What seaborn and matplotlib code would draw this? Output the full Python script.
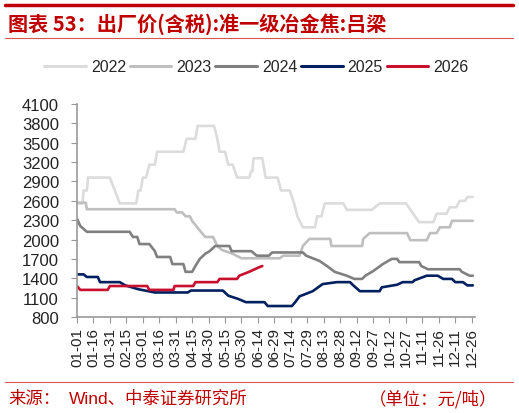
import numpy as np
import pandas as pd
import matplotlib
matplotlib.use("Agg")
import matplotlib.pyplot as plt
import seaborn as sns
from matplotlib.lines import Line2D

# breakpoints: day of year -> price (yuan/ton)
days_2022 = [0, 5, 6, 9, 10, 30, 39, 54, 56, 58, 60, 63, 66, 71, 73, 97, 100, 108, 110, 125, 128, 130, 135, 138, 142, 146,
             157, 159, 160, 161, 169, 172, 183, 186, 194, 198, 201, 206, 217, 219, 223, 226, 243, 246, 269, 276, 300, 312,
             325, 328, 337, 340, 346, 349, 354, 356, 361]
price_2022 = [2560, 2560, 2760, 2760, 2960, 2960, 2560, 2560, 2760, 2760, 2960, 2960, 3160, 3160, 3360, 3360, 3560, 3560,
              3760, 3760, 3560, 3360, 3360, 3160, 3160, 2960, 2960, 3060, 3060, 3260, 3260, 2960, 2960, 2760, 2760, 2560,
              2360, 2190, 2190, 2360, 2360, 2560, 2560, 2460, 2460, 2560, 2560, 2270, 2270, 2400, 2400, 2500, 2500, 2600,
              2600, 2660, 2660]

days_2023 = [0, 8, 9, 89, 91, 96, 99, 103, 105, 111, 117, 124, 128, 132, 142, 150, 185, 188, 203, 206, 212, 231, 232, 260,
             261, 267, 301, 304, 319, 322, 328, 331, 340, 342, 361]
price_2023 = [2570, 2570, 2470, 2470, 2420, 2420, 2360, 2360, 2290, 2160, 2040, 2040, 1900, 1840, 1780, 1710, 1710, 1750,
              1750, 1900, 2010, 2010, 1900, 1900, 2010, 2100, 2100, 1990, 1990, 2100, 2100, 2190, 2190, 2290, 2290]

days_2024 = [0, 3, 9, 48, 51, 55, 57, 66, 71, 73, 85, 87, 97, 99, 105, 108, 112, 117, 121, 126, 139, 141, 159, 164, 175,
             178, 206, 209, 221, 228, 235, 246, 253, 260, 263, 270, 279, 287, 292, 294, 312, 314, 320, 349, 351, 358, 361]
price_2024 = [2320, 2210, 2120, 2120, 2040, 2040, 1930, 1930, 1820, 1730, 1730, 1620, 1620, 1500, 1500, 1590, 1700, 1780,
              1820, 1900, 1900, 1820, 1820, 1750, 1750, 1800, 1800, 1750, 1670, 1590, 1500, 1440, 1390, 1390, 1440, 1510,
              1620, 1700, 1700, 1650, 1650, 1590, 1540, 1540, 1500, 1440, 1440]

days_2025 = [0, 6, 9, 19, 21, 39, 44, 56, 71, 101, 104, 133, 138, 147, 154, 171, 174, 196, 199, 203, 215, 224, 237, 249,
             252, 258, 276, 278, 292, 297, 306, 308, 319, 329, 334, 342, 345, 352, 356, 361]
price_2025 = [1460, 1460, 1420, 1420, 1340, 1340, 1290, 1230, 1180, 1180, 1210, 1210, 1130, 1080, 1030, 1030, 970, 970,
              1030, 1120, 1200, 1310, 1340, 1340, 1290, 1200, 1200, 1260, 1300, 1340, 1340, 1370, 1440, 1440, 1390, 1390,
              1340, 1340, 1290, 1290]

days_2026 = [0, 3, 28, 30, 64, 66, 88, 89, 106, 108, 128, 130, 146, 148, 157, 166, 169]
price_2026 = [1280, 1220, 1220, 1280, 1280, 1220, 1220, 1280, 1280, 1340, 1340, 1390, 1390, 1440, 1500, 1570, 1590]

years = ["2022", "2023", "2024", "2025", "2026"]
colors = ["#DCDCDC", "#BFBFBF", "#808080", "#002060", "#C8102E"]
tick_labels = ["01-01", "01-16", "01-31", "02-15", "03-01", "03-16", "03-31", "04-15", "04-30", "05-15", "05-30",
               "06-14", "06-29", "07-14", "07-29", "08-13", "08-28", "09-12", "09-27", "10-12", "10-27", "11-11",
               "11-26", "12-11", "12-26"]

series = {
    "2022": (days_2022, price_2022),
    "2023": (days_2023, price_2023),
    "2024": (days_2024, price_2024),
    "2025": (days_2025, price_2025),
    "2026": (days_2026, price_2026),
}
frames = []
for yr in years:
    d, p = series[yr]
    frames.append(pd.DataFrame({"day": d, "price": p, "year": yr}))
df = pd.concat(frames, ignore_index=True)

sns.set_style("white")
plt.rcParams["font.family"] = ["Liberation Sans", "Noto Sans CJK SC", "DejaVu Sans"]

fig = plt.figure(figsize=(5.19, 4.14), dpi=100)
ax = fig.add_axes([77 / 519, 1 - 318 / 414, 398 / 519, 213 / 414])

sns.lineplot(data=df, x="day", y="price", hue="year", palette=dict(zip(years, colors)),
             estimator=None, sort=False, linewidth=1.9, legend=False, ax=ax)

ax.set_xlim(0, 363)
ax.set_ylim(800, 4100)
ax.set_yticks(np.arange(800, 4101, 300))
ax.set_xticks(np.arange(0, 361, 15))
ax.set_xticklabels(tick_labels, rotation=90, fontsize=11, color="#222222")
ax.tick_params(axis="y", labelsize=12, colors="#222222", length=4, direction="out", left=True, color="#999999", pad=9)
ax.tick_params(axis="x", length=4, direction="out", bottom=True, color="#999999", pad=3)
for lab in ax.get_yticklabels():
    lab.set_color("#222222")
ax.set_xlabel("")
ax.set_ylabel("")
for s in ["top", "right"]:
    ax.spines[s].set_visible(False)
for s in ["left", "bottom"]:
    ax.spines[s].set_color("#999999")
    ax.spines[s].set_linewidth(1.2)

handles = [Line2D([0], [0], color=c, lw=2.2) for c in colors]
fig.legend(handles, years, loc="center", bbox_to_anchor=(0.494, 1 - 68 / 414), ncol=5, frameon=False,
           fontsize=11.5, handlelength=2.6, handletextpad=0.3, columnspacing=0.25)

red = "#C00000"
fig.add_artist(Line2D([5 / 519, 513 / 519], [1 - 6 / 414] * 2, color=red, lw=2.5))
fig.add_artist(Line2D([5 / 519, 513 / 519], [1 - 39 / 414] * 2, color="#D9534F", lw=0.8))
fig.add_artist(Line2D([5 / 519, 513 / 519], [1 - 383 / 414] * 2, color="#D9534F", lw=0.8))
fig.text(8 / 519, 1 - 24 / 414, "图表 53：出厂价(含税):准一级冶金焦:吕梁", color=red, fontsize=14.5,
         fontweight="bold", fontstyle="italic", va="center", family=["Noto Sans CJK SC", "DejaVu Sans"])
fig.text(8 / 519, 1 - 399 / 414, "来源：", color=red, fontsize=12.5, va="center",
         family=["Noto Sans CJK SC", "DejaVu Sans"])
fig.text(69 / 519, 1 - 399 / 414, "Wind、中泰证券研究所", color=red, fontsize=12.5, va="center",
         family=["Liberation Sans", "Noto Sans CJK SC"])
fig.text(497 / 519, 1 - 399 / 414, "（单位：元/吨）", color=red, fontsize=12.5, va="center", ha="right",
         family=["Noto Sans CJK SC", "DejaVu Sans"])

fig.savefig("out.png", dpi=100)
